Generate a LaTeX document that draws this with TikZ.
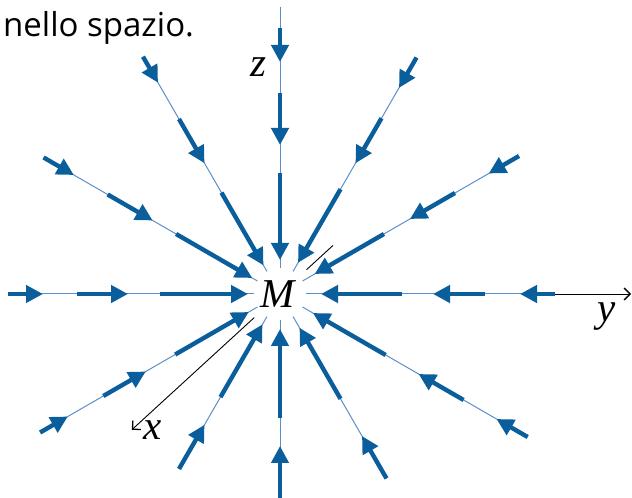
\documentclass[tikz,border=0pt]{standalone}
\usepackage{fontspec}
\newfontfamily\labfont{Liberation Serif}
\newfontfamily\txtfont{Open Sans}
\usetikzlibrary{arrows.meta,calc}
\definecolor{fblue}{HTML}{0B5E9C}
\definecolor{fthin}{HTML}{5B8FCB}
\begin{document}
\begin{tikzpicture}[x=1pt,y=1pt,
  thickseg/.style={line width=4.4pt, draw=fblue, -{Triangle[length=17pt,width=17pt]}},
  thinseg/.style={line width=1pt, draw=fthin},
  axisline/.style={line width=0.9pt, draw=black},
  lab/.style={font=\fontsize{41}{41}\selectfont\labfont\itshape, inner sep=0pt}]
\useasboundingbox (0,0) rectangle (632,498);
\coordinate (O) at (280,204);
\node[lab, anchor=base] (M) at (278,190) {M};
\node[lab, anchor=base] (zl) at (258,421) {z};
\node[lab, anchor=base] (yl) at (607,176) {y};
\node[lab, anchor=base] (xl) at (153,58) {x};
\node[anchor=base west, inner sep=0pt, font=\fontsize{33}{33}\selectfont\txtfont] (title) at (3,461) {nello spazio.};
% axes
\coordinate (ya) at ($(O)+(275,0)$);
\coordinate (yb) at (631,204);
\draw[axisline, -{Straight Barb[length=6pt,width=12pt,line width=1.3pt]}] (ya) -- (yb);
\coordinate (xa) at ($(O)+(42.5:72)$);
\coordinate (xb) at ($(O)+(42.5:36)$);
\coordinate (xc) at ($(O)+(222.5:35)$);
\coordinate (xd) at ($(O)+(222.5:201)$);
\draw[axisline] (xa) -- (xb);
\draw[axisline, -{Straight Barb[length=6pt,width=12pt,line width=1.3pt]}] (xc) -- (xd);
% full field lines
\foreach \a/\Rn/\Rk/\ta/\sb/\tb/\sc/\tc in {
  0/275/275/240/205/153/122/41,
  30/276/276/241/202/150/120/40,
  60/273/273/238/203/151/121/36,
  90/287/266/232/201/149/121/34,
  120/274/274/244/202/151/117/33,
  150/273/273/238/199/147/120/32,
  180/272/272/237/203/152/120/32,
  210/277/277/245/204/155/121/36,
  330/286/286/250/212/160/122/38}{
  \coordinate (n\a) at ($(O)+(\a:\Rn)$);
  \coordinate (e\a) at ($(O)+(\a:26)$);
  \coordinate (k\a) at ($(O)+(\a:\Rk)$);
  \coordinate (t\a) at ($(O)+(\a:\ta)$);
  \coordinate (s\a) at ($(O)+(\a:\sb)$);
  \coordinate (u\a) at ($(O)+(\a:\tb)$);
  \coordinate (r\a) at ($(O)+(\a:\sc)$);
  \coordinate (v\a) at ($(O)+(\a:\tc)$);
  \draw[thinseg] (n\a) -- (e\a);
  \draw[thickseg] (k\a) -- (t\a);
  \draw[thickseg] (s\a) -- (u\a);
  \draw[thickseg] (r\a) -- (v\a);
}
% truncated field lines (bottom)
\foreach \a/\R/\tb/\sc/\tc in {
  240/202/151/119/35,
  270/204/152/124/35,
  300/213/164/121/39}{
  \coordinate (n\a) at ($(O)+(\a:\R)$);
  \coordinate (e\a) at ($(O)+(\a:26)$);
  \coordinate (u\a) at ($(O)+(\a:\tb)$);
  \coordinate (r\a) at ($(O)+(\a:\sc)$);
  \coordinate (v\a) at ($(O)+(\a:\tc)$);
  \draw[thinseg] (n\a) -- (e\a);
  \draw[thickseg] (n\a) -- (u\a);
  \draw[thickseg] (r\a) -- (v\a);
}
\end{tikzpicture}
\end{document}
